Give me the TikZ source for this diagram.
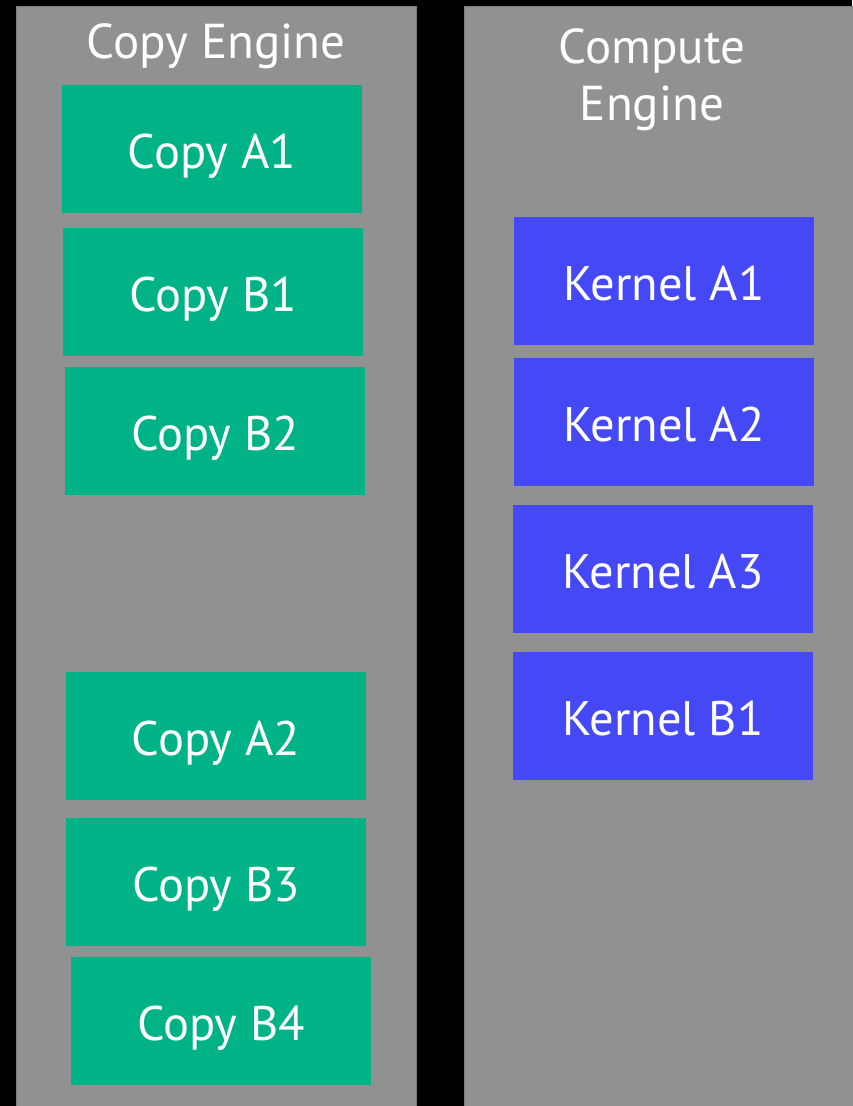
\documentclass[tikz,border=0pt]{standalone}
\usepackage{fontspec}
\setmainfont{PT Sans}
\definecolor{bgblack}{HTML}{000000}
\definecolor{colgray}{HTML}{919191}
\definecolor{copygreen}{HTML}{00B386}
\definecolor{kernblue}{HTML}{4549F5}
\tikzset{
  column/.style={fill=colgray, draw=colgray!85!black, line width=0.8pt},
  taskbox/.style={minimum width=300pt, minimum height=128pt, inner sep=0pt, text=white,
    text height=38pt, text depth=0pt, font=\fontsize{48.5}{57}\selectfont},
  copybox/.style={taskbox, fill=copygreen},
  kernbox/.style={taskbox, fill=kernblue},
  title/.style={text=white, align=center, font=\fontsize{49}{57}\selectfont, inner sep=0pt},
}
\begin{document}
\begin{tikzpicture}[x=1pt,y=-1pt]
\useasboundingbox (0,0) rectangle (852,1106);
\fill[bgblack] (0,0) rectangle (852,1106);
\draw[column] (16,6) rectangle (416,1110);
\draw[column] (464,6) rectangle (856,1110);
\node[title, anchor=base] (copytitle) at (216,58) {Copy Engine};
\node[title, anchor=base] (comptitle) at (652,120) {Compute\\Engine};
\node[copybox] (ca1) at (212,149) {Copy A1};
\node[copybox] (cb1) at (213,292) {Copy B1};
\node[copybox] (cb2) at (215,431) {Copy B2};
\node[copybox] (ca2) at (216,736) {Copy A2};
\node[copybox] (cb3) at (216,882) {Copy B3};
\node[copybox] (cb4) at (221,1021) {Copy B4};
\node[kernbox] (ka1) at (664,281) {Kernel A1};
\node[kernbox] (ka2) at (664,422) {Kernel A2};
\node[kernbox] (ka3) at (663,569) {Kernel A3};
\node[kernbox] (kb1) at (663,716) {Kernel B1};
\end{tikzpicture}
\end{document}
